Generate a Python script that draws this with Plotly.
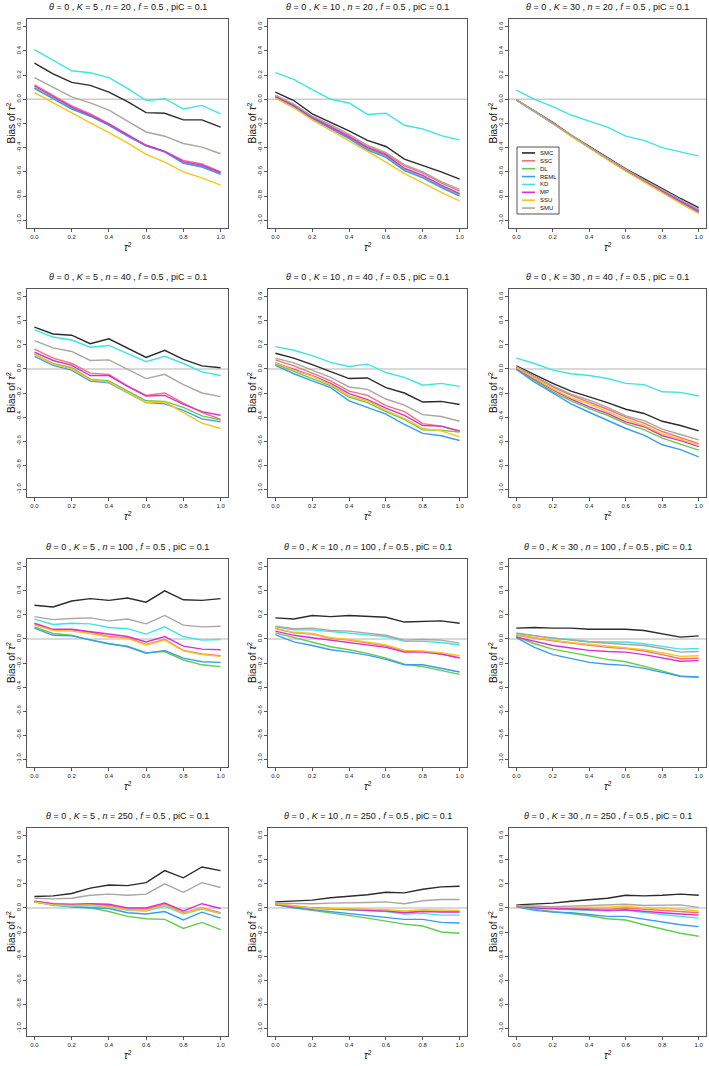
import plotly.graph_objects as go

W, H = 709, 1066

# ---------------- data ----------------
tau2 = [0.0, 0.1, 0.2, 0.3, 0.4, 0.5, 0.6, 0.7, 0.8, 0.9, 1.0]
methods = ["SMC", "SSC", "DL", "REML", "KD", "MP", "SSU", "SMU"]
method_colors = ["#2b2b2b", "#f4707e", "#62cc4c", "#3a9cf0", "#3fe3e3", "#dd2fcf", "#f7c51c", "#aaa59f"]
K_values = [5, 10, 30]
n_values = [20, 40, 100, 250]
ytick_vals = [-1.0, -0.8, -0.6, -0.4, -0.2, 0.0, 0.2, 0.4, 0.6]
ytick_text = ["-1.0", "-0.8", "-0.6", "-0.4", "-0.2", "0.0", "0.2", "0.4", "0.6"]
xtick_vals = [0.0, 0.2, 0.4, 0.6, 0.8, 1.0]
xtick_text = ["0.0", "0.2", "0.4", "0.6", "0.8", "1.0"]

# K=5, n=20
k5_n20_SMC = [0.30, 0.21, 0.14, 0.115, 0.06, -0.02, -0.11, -0.115, -0.17, -0.17, -0.23]
k5_n20_SSC = [0.12, 0.035, -0.055, -0.12, -0.20, -0.29, -0.38, -0.43, -0.505, -0.535, -0.60]
k5_n20_DL = [0.095, 0.01, -0.075, -0.135, -0.21, -0.30, -0.385, -0.435, -0.525, -0.555, -0.615]
k5_n20_REML = [0.09, 0.005, -0.08, -0.14, -0.215, -0.305, -0.385, -0.435, -0.53, -0.56, -0.62]
k5_n20_KD = [0.41, 0.32, 0.236, 0.22, 0.18, 0.09, -0.01, 0.005, -0.08, -0.05, -0.12]
k5_n20_MP = [0.11, 0.025, -0.065, -0.13, -0.205, -0.295, -0.38, -0.43, -0.515, -0.545, -0.605]
k5_n20_SSU = [0.055, -0.03, -0.115, -0.195, -0.275, -0.36, -0.455, -0.52, -0.60, -0.65, -0.71]
k5_n20_SMU = [0.18, 0.10, 0.02, -0.03, -0.09, -0.18, -0.27, -0.305, -0.365, -0.395, -0.45]

# K=10, n=20
k10_n20_SMC = [0.06, -0.01, -0.12, -0.19, -0.26, -0.34, -0.39, -0.495, -0.545, -0.60, -0.66]
k10_n20_SSC = [0.03, -0.045, -0.145, -0.22, -0.30, -0.39, -0.45, -0.55, -0.61, -0.69, -0.76]
k10_n20_DL = [0.02, -0.055, -0.155, -0.235, -0.32, -0.41, -0.47, -0.58, -0.645, -0.72, -0.79]
k10_n20_REML = [0.015, -0.06, -0.16, -0.24, -0.325, -0.42, -0.48, -0.59, -0.65, -0.73, -0.80]
k10_n20_KD = [0.22, 0.165, 0.08, 0.0, -0.03, -0.125, -0.115, -0.215, -0.245, -0.30, -0.335]
k10_n20_MP = [0.025, -0.05, -0.15, -0.23, -0.31, -0.40, -0.46, -0.57, -0.63, -0.71, -0.78]
k10_n20_SSU = [0.01, -0.07, -0.17, -0.255, -0.34, -0.43, -0.52, -0.615, -0.69, -0.77, -0.84]
k10_n20_SMU = [0.035, -0.04, -0.14, -0.21, -0.29, -0.38, -0.44, -0.54, -0.60, -0.68, -0.745]

# K=30, n=20
k30_n20_SMC = [-0.005, -0.10, -0.19, -0.295, -0.39, -0.485, -0.575, -0.655, -0.74, -0.82, -0.895]
k30_n20_SSC = [-0.005, -0.10, -0.195, -0.30, -0.395, -0.49, -0.585, -0.67, -0.755, -0.84, -0.915]
k30_n20_DL = [-0.005, -0.10, -0.195, -0.30, -0.40, -0.495, -0.59, -0.675, -0.76, -0.845, -0.93]
k30_n20_REML = [-0.005, -0.10, -0.20, -0.30, -0.40, -0.495, -0.59, -0.68, -0.765, -0.85, -0.935]
k30_n20_KD = [0.075, 0.0, -0.06, -0.13, -0.18, -0.23, -0.305, -0.34, -0.40, -0.435, -0.47]
k30_n20_MP = [-0.005, -0.10, -0.195, -0.30, -0.40, -0.495, -0.59, -0.675, -0.76, -0.845, -0.925]
k30_n20_SSU = [-0.005, -0.10, -0.20, -0.305, -0.405, -0.50, -0.595, -0.685, -0.77, -0.86, -0.945]
k30_n20_SMU = [-0.005, -0.10, -0.195, -0.295, -0.395, -0.49, -0.58, -0.665, -0.75, -0.83, -0.91]

# K=5, n=40
k5_n40_SMC = [0.347, 0.29, 0.28, 0.21, 0.25, 0.17, 0.095, 0.155, 0.08, 0.025, 0.01]
k5_n40_SSC = [0.165, 0.09, 0.045, -0.035, -0.045, -0.14, -0.22, -0.20, -0.285, -0.36, -0.42]
k5_n40_DL = [0.125, 0.045, 0.01, -0.085, -0.10, -0.18, -0.265, -0.27, -0.32, -0.39, -0.425]
k5_n40_REML = [0.105, 0.03, -0.01, -0.10, -0.115, -0.195, -0.28, -0.29, -0.345, -0.415, -0.44]
k5_n40_KD = [0.325, 0.265, 0.24, 0.18, 0.195, 0.13, 0.06, 0.105, 0.045, -0.025, -0.055]
k5_n40_MP = [0.14, 0.07, 0.03, -0.055, -0.055, -0.145, -0.225, -0.22, -0.295, -0.355, -0.385]
k5_n40_SSU = [0.12, 0.04, 0.0, -0.09, -0.11, -0.195, -0.28, -0.275, -0.36, -0.45, -0.495]
k5_n40_SMU = [0.235, 0.175, 0.145, 0.07, 0.075, 0.0, -0.08, -0.045, -0.13, -0.20, -0.23]

# K=10, n=40
k10_n40_SMC = [0.13, 0.09, 0.035, -0.02, -0.08, -0.075, -0.155, -0.20, -0.275, -0.27, -0.295]
k10_n40_SSC = [0.075, 0.025, -0.035, -0.10, -0.185, -0.22, -0.305, -0.355, -0.455, -0.475, -0.52]
k10_n40_DL = [0.04, -0.02, -0.075, -0.14, -0.235, -0.28, -0.355, -0.42, -0.505, -0.51, -0.525]
k10_n40_REML = [0.03, -0.04, -0.10, -0.155, -0.265, -0.32, -0.375, -0.46, -0.535, -0.555, -0.595]
k10_n40_KD = [0.185, 0.155, 0.11, 0.055, 0.02, 0.04, -0.03, -0.07, -0.135, -0.12, -0.145]
k10_n40_MP = [0.05, 0.0, -0.055, -0.12, -0.205, -0.255, -0.325, -0.385, -0.47, -0.475, -0.515]
k10_n40_SSU = [0.05, -0.01, -0.06, -0.13, -0.225, -0.265, -0.345, -0.41, -0.495, -0.515, -0.565]
k10_n40_SMU = [0.09, 0.05, -0.01, -0.07, -0.15, -0.17, -0.25, -0.30, -0.38, -0.395, -0.435]

# K=30, n=40
k30_n40_SMC = [0.025, -0.05, -0.12, -0.185, -0.23, -0.28, -0.335, -0.37, -0.435, -0.47, -0.515]
k30_n40_SSC = [0.015, -0.065, -0.15, -0.22, -0.275, -0.335, -0.40, -0.45, -0.52, -0.57, -0.62]
k30_n40_DL = [0.0, -0.095, -0.19, -0.265, -0.33, -0.385, -0.455, -0.505, -0.575, -0.625, -0.675]
k30_n40_REML = [-0.005, -0.11, -0.20, -0.29, -0.36, -0.43, -0.495, -0.55, -0.63, -0.67, -0.73]
k30_n40_KD = [0.09, 0.045, -0.01, -0.04, -0.055, -0.08, -0.12, -0.13, -0.19, -0.195, -0.225]
k30_n40_MP = [0.005, -0.085, -0.175, -0.25, -0.315, -0.37, -0.44, -0.48, -0.555, -0.595, -0.645]
k30_n40_SSU = [0.01, -0.075, -0.165, -0.24, -0.29, -0.355, -0.42, -0.47, -0.54, -0.585, -0.635]
k30_n40_SMU = [0.02, -0.06, -0.14, -0.21, -0.26, -0.32, -0.39, -0.43, -0.50, -0.545, -0.59]

# K=5, n=100
k5_n100_SMC = [0.28, 0.265, 0.315, 0.335, 0.32, 0.34, 0.305, 0.40, 0.325, 0.32, 0.335]
k5_n100_SSC = [0.125, 0.075, 0.075, 0.055, 0.02, 0.01, -0.045, -0.005, -0.095, -0.125, -0.14]
k5_n100_DL = [0.10, 0.045, 0.03, -0.01, -0.04, -0.06, -0.115, -0.105, -0.175, -0.215, -0.23]
k5_n100_REML = [0.09, 0.03, 0.025, -0.01, -0.04, -0.065, -0.12, -0.095, -0.16, -0.19, -0.195]
k5_n100_KD = [0.165, 0.12, 0.13, 0.125, 0.095, 0.085, 0.04, 0.10, 0.02, -0.01, -0.005]
k5_n100_MP = [0.13, 0.08, 0.08, 0.06, 0.035, 0.02, -0.025, 0.02, -0.06, -0.085, -0.09]
k5_n100_SSU = [0.115, 0.07, 0.065, 0.045, 0.015, 0.005, -0.05, -0.01, -0.10, -0.13, -0.145]
k5_n100_SMU = [0.185, 0.16, 0.17, 0.175, 0.15, 0.165, 0.125, 0.195, 0.115, 0.10, 0.105]

# K=10, n=100
k10_n100_SMC = [0.175, 0.165, 0.195, 0.185, 0.195, 0.19, 0.18, 0.14, 0.145, 0.15, 0.13]
k10_n100_SSC = [0.085, 0.05, 0.04, 0.005, -0.01, -0.035, -0.06, -0.10, -0.105, -0.125, -0.155]
k10_n100_DL = [0.05, 0.01, -0.025, -0.065, -0.09, -0.12, -0.16, -0.21, -0.23, -0.26, -0.295]
k10_n100_REML = [0.035, -0.025, -0.055, -0.09, -0.11, -0.135, -0.17, -0.215, -0.215, -0.245, -0.275]
k10_n100_KD = [0.10, 0.075, 0.075, 0.06, 0.05, 0.035, 0.02, -0.02, -0.02, -0.03, -0.05]
k10_n100_MP = [0.065, 0.03, 0.01, -0.01, -0.025, -0.045, -0.07, -0.11, -0.11, -0.125, -0.16]
k10_n100_SSU = [0.09, 0.055, 0.045, 0.01, -0.005, -0.03, -0.05, -0.095, -0.10, -0.115, -0.14]
k10_n100_SMU = [0.105, 0.085, 0.09, 0.07, 0.065, 0.05, 0.03, -0.01, -0.005, -0.01, -0.035]

# K=30, n=100
k30_n100_SMC = [0.09, 0.095, 0.09, 0.09, 0.08, 0.08, 0.08, 0.07, 0.045, 0.015, 0.025]
k30_n100_SSC = [0.03, 0.005, -0.015, -0.035, -0.055, -0.07, -0.08, -0.10, -0.13, -0.165, -0.16]
k30_n100_DL = [0.02, -0.04, -0.085, -0.115, -0.145, -0.17, -0.19, -0.225, -0.265, -0.31, -0.32]
k30_n100_REML = [0.01, -0.07, -0.13, -0.165, -0.195, -0.21, -0.22, -0.245, -0.28, -0.31, -0.315]
k30_n100_KD = [0.05, 0.03, 0.005, -0.005, -0.02, -0.025, -0.025, -0.04, -0.065, -0.085, -0.08]
k30_n100_MP = [0.015, -0.02, -0.055, -0.075, -0.095, -0.105, -0.11, -0.13, -0.155, -0.185, -0.18]
k30_n100_SSU = [0.035, 0.01, -0.01, -0.03, -0.045, -0.06, -0.07, -0.09, -0.115, -0.145, -0.14]
k30_n100_SMU = [0.045, 0.025, 0.005, -0.01, -0.025, -0.035, -0.04, -0.055, -0.08, -0.11, -0.105]

# K=5, n=250
k5_n250_SMC = [0.095, 0.10, 0.12, 0.165, 0.19, 0.185, 0.21, 0.31, 0.25, 0.34, 0.31]
k5_n250_SSC = [0.055, 0.03, 0.025, 0.03, 0.02, -0.01, -0.01, 0.03, -0.04, 0.0, -0.04]
k5_n250_DL = [0.05, 0.025, 0.01, 0.0, -0.03, -0.07, -0.09, -0.095, -0.17, -0.12, -0.18]
k5_n250_REML = [0.05, 0.025, 0.01, 0.005, -0.005, -0.04, -0.05, -0.03, -0.10, -0.035, -0.085]
k5_n250_KD = [0.05, 0.02, 0.015, 0.02, 0.005, -0.02, -0.025, 0.015, -0.05, -0.01, -0.045]
k5_n250_MP = [0.055, 0.035, 0.03, 0.035, 0.03, 0.0, 0.0, 0.04, -0.025, 0.035, -0.005]
k5_n250_SSU = [0.05, 0.025, 0.02, 0.025, 0.01, -0.015, -0.02, 0.025, -0.045, -0.005, -0.05]
k5_n250_SMU = [0.08, 0.075, 0.08, 0.105, 0.115, 0.105, 0.115, 0.20, 0.13, 0.21, 0.17]

# K=10, n=250
k10_n250_SMC = [0.05, 0.055, 0.065, 0.085, 0.095, 0.11, 0.13, 0.125, 0.155, 0.175, 0.18]
k10_n250_SSC = [0.035, 0.015, 0.0, -0.005, -0.01, -0.015, -0.02, -0.035, -0.025, -0.03, -0.03]
k10_n250_DL = [0.03, 0.0, -0.02, -0.04, -0.06, -0.085, -0.11, -0.135, -0.15, -0.20, -0.21]
k10_n250_REML = [0.025, 0.0, -0.015, -0.03, -0.05, -0.065, -0.08, -0.095, -0.095, -0.12, -0.125]
k10_n250_KD = [0.03, 0.01, -0.005, -0.01, -0.015, -0.02, -0.03, -0.05, -0.045, -0.06, -0.06]
k10_n250_MP = [0.03, 0.01, 0.0, -0.005, -0.01, -0.02, -0.025, -0.04, -0.03, -0.035, -0.035]
k10_n250_SSU = [0.035, 0.015, 0.0, -0.005, -0.005, -0.01, -0.015, -0.025, -0.015, -0.015, -0.02]
k10_n250_SMU = [0.04, 0.035, 0.035, 0.04, 0.04, 0.045, 0.05, 0.035, 0.06, 0.07, 0.07]

# K=30, n=250
k30_n250_SMC = [0.025, 0.03, 0.04, 0.055, 0.07, 0.08, 0.105, 0.10, 0.105, 0.115, 0.105]
k30_n250_SSC = [0.02, 0.005, 0.0, -0.005, -0.005, -0.01, 0.0, -0.01, -0.02, -0.025, -0.04]
k30_n250_DL = [0.02, -0.01, -0.03, -0.045, -0.065, -0.09, -0.10, -0.14, -0.175, -0.21, -0.235]
k30_n250_REML = [0.01, -0.02, -0.035, -0.04, -0.055, -0.07, -0.07, -0.095, -0.12, -0.14, -0.155]
k30_n250_KD = [0.015, -0.005, -0.01, -0.015, -0.02, -0.025, -0.02, -0.04, -0.055, -0.07, -0.085]
k30_n250_MP = [0.015, 0.0, -0.005, -0.01, -0.01, -0.02, -0.015, -0.03, -0.04, -0.05, -0.06]
k30_n250_SSU = [0.02, 0.01, 0.005, 0.005, 0.005, 0.005, 0.015, 0.0, 0.0, -0.01, -0.025]
k30_n250_SMU = [0.02, 0.015, 0.01, 0.015, 0.02, 0.02, 0.03, 0.02, 0.02, 0.025, 0.005]

# ---------------- layout geometry (pixels) ----------------
col_box = [(27, 228), (268, 467), (509, 706)]
row_box = [(19, 228), (289, 497), (559, 767), (828, 1036)]

FONT = "Liberation Sans, Arial, Helvetica, sans-serif"
AXC = "#555555"


def px_x(p):
    return p / W


def px_y(p):
    return 1 - p / H


fig = go.Figure()
layout = dict(
    width=W, height=H, margin=dict(l=0, r=0, t=0, b=0),
    paper_bgcolor="white", plot_bgcolor="white", showlegend=False,
    font=dict(family=FONT, color="#222222"),
)
annotations = []
shapes = []

idx = 0
for ri, n in enumerate(n_values):
    for ci, K in enumerate(K_values):
        idx += 1
        sfx = "" if idx == 1 else str(idx)
        xl, xr = col_box[ci]
        yt, yb = row_box[ri]
        layout["xaxis" + sfx] = dict(
            domain=[px_x(xl), px_x(xr)], anchor="y" + sfx, range=[-0.04, 1.04],
            tickmode="array", tickvals=xtick_vals, ticktext=xtick_text,
            showline=True, mirror=True, linecolor=AXC, linewidth=1,
            ticks="outside", ticklen=3, tickwidth=1, tickcolor=AXC,
            showgrid=False, zeroline=False,
            tickfont=dict(size=6, family=FONT, color="#222222"),
        )
        layout["yaxis" + sfx] = dict(
            domain=[px_y(yb), px_y(yt)], anchor="x" + sfx, range=[-1.064, 0.664],
            tickmode="array", tickvals=ytick_vals, ticktext=ytick_text,
            showline=True, mirror=True, linecolor=AXC, linewidth=1,
            ticks="outside", ticklen=3, tickwidth=1, tickcolor=AXC,
            showgrid=False, zeroline=False, tickangle=-90,
            tickfont=dict(size=6, family=FONT, color="#222222"),
        )
        # horizontal reference line at zero
        shapes.append(dict(type="line", xref="x" + sfx + " domain", yref="y" + sfx,
                           x0=0, x1=1, y0=0, y1=0, layer="below",
                           line=dict(color="#cccccc", width=1.5)))
        for m, col in zip(methods, method_colors):
            vals = globals()[f"k{K}_n{n}_{m}"]
            fig.add_trace(go.Scatter(
                x=tau2, y=vals, mode="lines", name=m,
                line=dict(color=col, width=1.4),
                xaxis="x" + sfx, yaxis="y" + sfx,
            ))
        # title
        annotations.append(dict(
            text=(f"<i>θ</i> = 0 , <i>K</i> = {K} , <i>n</i> = {n} , "
                  f"<i>f</i> = 0.5 , piC = 0.1"),
            xref="paper", yref="paper", x=px_x((xl + xr) / 2), y=px_y(yt - 12),
            xanchor="center", yanchor="middle", showarrow=False,
            font=dict(size=9, family=FONT, color="#111111"),
        ))
        # y axis title
        annotations.append(dict(
            text="Bias of <i>τ</i><sup>2</sup>", textangle=-90,
            xref="paper", yref="paper", x=px_x(xl - 16), y=px_y((yt + yb) / 2),
            xanchor="center", yanchor="middle", showarrow=False,
            font=dict(size=10, family=FONT, color="#111111"),
        ))
        # x axis title
        annotations.append(dict(
            text="<i>τ</i><sup>2</sup>",
            xref="paper", yref="paper", x=px_x((xl + xr) / 2), y=px_y(yb + 19),
            xanchor="center", yanchor="middle", showarrow=False,
            font=dict(size=10, family=FONT, color="#111111"),
        ))

# legend drawn in the K=30, n=20 panel
leg_l, leg_r, leg_t, leg_b = 517, 559, 147, 214
shapes.append(dict(type="rect", xref="paper", yref="paper",
                   x0=px_x(leg_l), x1=px_x(leg_r), y0=px_y(leg_b), y1=px_y(leg_t),
                   line=dict(color=AXC, width=1), fillcolor="white", layer="above"))
row_h = (leg_b - leg_t - 4) / len(methods)
for i, (m, col) in enumerate(zip(methods, method_colors)):
    yy = leg_t + 2 + row_h * (i + 0.5)
    shapes.append(dict(type="line", xref="paper", yref="paper",
                       x0=px_x(leg_l + 5), x1=px_x(leg_l + 18), y0=px_y(yy), y1=px_y(yy),
                       line=dict(color=col, width=1.6), layer="above"))
    annotations.append(dict(
        text=m, xref="paper", yref="paper", x=px_x(leg_l + 21), y=px_y(yy),
        xanchor="left", yanchor="middle", showarrow=False,
        font=dict(size=6, family=FONT, color="#111111"),
    ))

layout["annotations"] = annotations
layout["shapes"] = shapes
fig.update_layout(**layout)
fig.write_html(
    "out.html",
    config={"displayModeBar": False},
    post_script="document.body.style.margin='0';document.body.style.overflow='hidden';",
)
